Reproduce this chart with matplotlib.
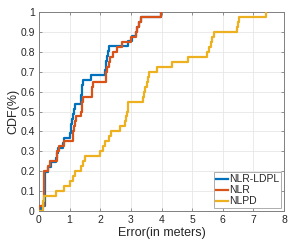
import matplotlib
matplotlib.use("Agg")
import matplotlib.pyplot as plt

plt.rcParams['font.family'] = ['Liberation Sans', 'DejaVu Sans']

# Step breakpoints (error in m, CDF level)
ldpl_x = [0.0, 0.05, 0.18, 0.28, 0.38, 0.56, 0.58, 0.62, 0.78, 0.80, 1.02, 1.04, 1.06, 1.08,
          1.10, 1.14, 1.18, 1.37, 1.38, 1.40, 1.42, 1.45, 1.70, 2.16, 2.18, 2.19, 2.21, 2.24,
          2.28, 2.92, 3.03, 3.18, 3.21, 3.26, 3.32, 3.97]
ldpl_y = [0.0, 0.024, 0.195, 0.22, 0.244, 0.268, 0.293, 0.317, 0.341, 0.366, 0.39, 0.415,
          0.439, 0.463, 0.488, 0.512, 0.537, 0.561, 0.585, 0.61, 0.634, 0.659, 0.683, 0.707,
          0.732, 0.756, 0.78, 0.805, 0.829, 0.854, 0.878, 0.902, 0.927, 0.951, 0.976, 1.0]

nlr_x = [0.0, 0.01, 0.16, 0.28, 0.36, 0.58, 0.60, 0.64, 0.80, 1.10, 1.12, 1.14, 1.16, 1.20,
         1.37, 1.39, 1.41, 1.43, 1.72, 1.74, 1.76, 2.18, 2.20, 2.22, 2.27, 2.32, 2.40, 2.55,
         2.70, 3.00, 3.18, 3.21, 3.26, 3.32, 3.97]
nlr_y = [0.0, 0.025, 0.2, 0.225, 0.25, 0.275, 0.3, 0.325, 0.35, 0.375, 0.4, 0.425, 0.45,
         0.475, 0.5, 0.525, 0.55, 0.575, 0.6, 0.625, 0.65, 0.675, 0.7, 0.725, 0.75, 0.775,
         0.8, 0.825, 0.85, 0.875, 0.9, 0.925, 0.95, 0.975, 1.0]

nlpd_x = [0.0, 0.12, 0.14, 0.16, 0.56, 0.80, 1.00, 1.10, 1.19, 1.36, 1.43, 1.49, 2.00, 2.08,
          2.16, 2.27, 2.35, 2.63, 2.80, 2.84, 2.88, 2.90, 2.92, 3.38, 3.43, 3.46, 3.52, 3.55,
          3.58, 3.85, 4.33, 4.85, 5.50, 5.55, 5.60, 5.66, 5.72, 6.48, 6.50, 6.52, 7.40]
nlpd_y = [0.0, 0.025, 0.05, 0.075, 0.1, 0.125, 0.15, 0.175, 0.2, 0.225, 0.25, 0.275, 0.3,
          0.325, 0.35, 0.375, 0.4, 0.425, 0.45, 0.475, 0.5, 0.525, 0.55, 0.575, 0.6, 0.625,
          0.65, 0.675, 0.7, 0.725, 0.75, 0.775, 0.8, 0.825, 0.85, 0.875, 0.9, 0.925, 0.95,
          0.975, 1.0]

series_names = ['NLR-LDPL', 'NLR', 'NLPD']
x_ticks = [0, 1, 2, 3, 4, 5, 6, 7, 8]
y_ticks = [0, 0.1, 0.2, 0.3, 0.4, 0.5, 0.6, 0.7, 0.8, 0.9, 1]
y_tick_labels = ['0', '0.1', '0.2', '0.3', '0.4', '0.5', '0.6', '0.7', '0.8', '0.9', '1']

colors = ['#0072BD', '#D95319', '#EDB120']

fig = plt.figure(figsize=(3.01, 2.42), dpi=100)
ax = fig.add_axes([39/301, 1 - 211/242, (284-39)/301, (211-12)/242])

for xs, ys, name, c in zip([ldpl_x, nlr_x, nlpd_x], [ldpl_y, nlr_y, nlpd_y], series_names, colors):
    ax.plot(xs, ys, drawstyle='steps-post', color=c, lw=1.6, label=name, zorder=3)

ax.set_xlim(0, 8)
ax.set_ylim(0, 1)
ax.set_xticks(x_ticks)
ax.set_yticks(y_ticks)
ax.set_yticklabels(y_tick_labels)
ax.grid(True, color='#e6e6e6', lw=0.6)
ax.set_axisbelow(True)
for s in ax.spines.values():
    s.set_color('#808080')
    s.set_linewidth(0.7)
ax.tick_params(direction='in', length=2.5, width=0.6, color='#808080', labelsize=7.5,
               labelcolor='#262626', top=True, right=True, pad=3)
ax.set_xlabel('Error(in meters)', fontsize=9, color='#262626', labelpad=1)
ax.set_ylabel('CDF(%)', fontsize=9, color='#262626', labelpad=1)

leg = ax.legend(loc='lower right', fontsize=7.5, handlelength=1.2, handletextpad=0.1,
                labelspacing=0.1, borderpad=0.2, borderaxespad=0.25, fancybox=False,
                framealpha=1, edgecolor='#a0a0a0')
leg.get_frame().set_linewidth(0.6)
for t in leg.get_texts():
    t.set_color('#262626')

fig.savefig('out.png', dpi=100)
